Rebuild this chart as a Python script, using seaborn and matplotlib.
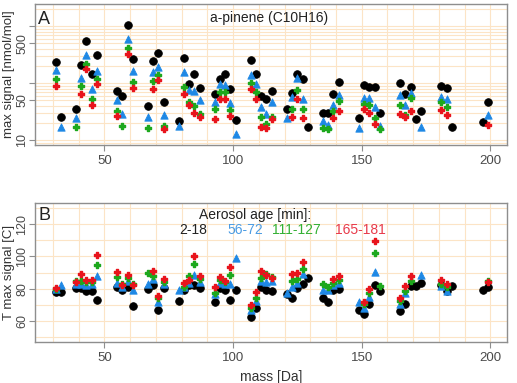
import numpy as np
import pandas as pd
import matplotlib
matplotlib.use("Agg")
import matplotlib.pyplot as plt
import seaborn as sns
from matplotlib.ticker import LogLocator, NullFormatter, FixedLocator, FixedFormatter

N = np.nan
masses = [31, 33, 39, 41, 43, 45, 47, 55, 57, 59, 61, 67, 69, 71, 73, 79, 81, 83, 85, 87,
          93, 95, 97, 99, 101, 107, 109, 111, 113, 115, 121, 123, 125, 127, 129, 135, 137,
          139, 141, 149, 151, 153, 155, 157, 165, 167, 169, 171, 173, 181, 183, 185, 197, 199]
ages = ["2-18", "56-72", "111-127", "165-181"]

# Panel A: max signal [nmol/mol]
sig_2_18 = [235, 25, 35.5, 205, 556, 143, 312, 73.5, 60, 1037, 266, 39, 248, 343, 46.6, 21.6, 273, 95, 144, 83,
            64, 118, 146, 80, 22.4, 252, 146, 59, 53, 72.6, 34.7, 67.8, 146, 117, 16.7, 29.8, 29.8,
            64, 105, 24.4, 91.5, 86.5, 85, 29.5, 99, 64, 85, 23.4, 32.7, 89, 83, 16.7, 20.5, 46]
sig_56_72 = [168, 16.7, 24, 121, 312, 78, 161, 50.5, 28.3, 596, 165, 25.7, 157, 189, 27.5, 17.6, 158, 75, 72, 50.5,
             46.6, 96.5, 93, 45, 12.9, 141, 95, 37.6, 28.6, 46, 24, 57.7, 124, 52.5, N, 21.6, 18.1,
             40.7, 62.5, 16.3, 54, 54.8, 38.5, 17.4, 61, 40.7, 66.2, N, 16.7, 57, 52.5, N, N, 27.2]
sig_111_127 = [118, N, 16.9, 89, 214, 52.5, 119, 32.4, 17.6, 408, 105, 16.4, 110, 139, 17.6, N, 84, 47, 39.6, 29,
               34.7, 70.6, 69, 33.6, N, 99, 70.6, 25, 18.9, 25.4, N, 34.7, 75.6, 35, N, 16.4, 15.6,
               32.7, 48.4, N, 42.4, 41.7, 24.4, 15.4, 40.7, 27.8, 54, N, N, 46.6, 38, N, N, N]
sig_165_181 = [88, N, N, 63.5, 175, 40.7, 97, 26, N, 320, 82, N, 78, 112, 15.8, N, 65, 41.7, 30.2, 25.7,
               23.1, 53, 52.5, 26.4, N, 78, 52.5, 17.1, 16.4, 23.1, N, 25.7, 52.5, 24.6, N, N, N,
               24.6, 32.4, N, 35, 29.5, 18.9, N, 28.6, 25, 32.7, N, N, 33.6, 27.8, N, N, 18.1]

# Panel B: T max signal [C]
t_2_18 = [78.1, 78.1, 80.6, 80.6, 78.7, 78.7, 72.6, 80.8, 79, 80.8, 69.3, 80, 82.1, 66.8, 80.4, 72.5, 79, 82, 82.3, 80.4,
          71.9, 80.2, 79.2, 72.6, 79.2, 62.4, 68.2, 81, 79.2, 78.5, 76.5, 74.4, 80.3, 82.7, 86.6, 74.4, 71.9,
          79.3, 79.6, 66.8, 64.4, 70.6, 82.2, 78.7, 65.8, 70.6, 81.3, 81.3, 83.5, 82.2, 78.2, 81.3, 79.3, 81.2]
t_56_72 = [79.5, 82.3, 83, 82.7, 82.3, 83, 88, 83.2, 81, 84.9, 79.4, 82.7, 86.2, 71.8, 82.7, 79, 81, 83.5, 88.5, 84.3,
           76.5, 83.3, 83, 83, 99, 66.4, 72, 85, 84.4, 84.5, 77, 81.2, 83.3, 89.2, N, 78.9, 79,
           82.3, 83.5, 71.8, 68, 75, 90.4, N, 70.4, 77, N, N, 88.2, 81.6, 78.4, N, N, N]
t_111_127 = [79.8, N, 84.5, 84.5, 84.3, 84, 94.6, 87.2, 82.7, 86.5, 82.7, 89.7, 88, 74.1, 84, N, 80.7, 87.6, 95.5, 86,
             77.5, 85.5, 84, 88.6, N, 68, 74, 86.4, 89.3, 87, N, 84.7, 85.8, 92, N, 83.1, 80.8,
             83.6, 85.5, N, 70.7, 77.2, 102, 81.8, 72.5, 78.5, 84.6, N, N, 82.7, 81, N, N, 85]
t_165_181 = [80.5, N, 84, 88.9, 85.2, 85.2, 100.8, 90.5, 82, 88.3, 82.1, N, 90.8, 75.6, 86.1, N, 83.5, 85.1, 100, 87.7,
             81.2, 87.2, 84.7, 93.4, N, 69.9, 78, 91.2, 88.6, 86.5, N, 88.8, 89.5, 96.7, N, N, N,
             85.7, 87.6, N, 71.8, 79.8, 109.3, N, 74.4, 81.3, 87.6, N, N, 85.4, 83, N, N, 84.2]

colors = {"2-18": "#000000", "56-72": "#1E88E5", "111-127": "#1DA81D", "165-181": "#E8141C"}
markers = {"2-18": "o", "56-72": "^", "111-127": "P", "165-181": "P"}
sizes = {"2-18": 30, "56-72": 28, "111-127": 22, "165-181": 22}
edge_w = {"2-18": 0.6, "56-72": 0.6, "111-127": 1.0, "165-181": 1.0}
text_colors = {"2-18": "#222222", "56-72": "#4A9BE3", "111-127": "#33B033", "165-181": "#E83A4A"}


def long_frame(series):
    parts = []
    for age, vals in zip(ages, series):
        parts.append(pd.DataFrame({"mass": masses, "value": vals, "age": age}))
    return pd.concat(parts, ignore_index=True).dropna()


dfA = long_frame([sig_2_18, sig_56_72, sig_111_127, sig_165_181])
dfB = long_frame([t_2_18, t_56_72, t_111_127, t_165_181])

sns.set_style("white")
plt.rcParams["font.family"] = ["Liberation Sans", "DejaVu Sans"]

W, H = 517, 383
fig = plt.figure(figsize=(W / 100, H / 100), dpi=100)
axA = fig.add_axes([35 / W, 1 - 145 / H, 472 / W, 141 / H])
axB = fig.add_axes([35 / W, 1 - 342 / H, 472 / W, 139 / H])

grid_c = "#FCE4C6"
frame_c = "#8E8E8E"
tick_c = "#4A4A4A"

for ax, df in ((axA, dfA), (axB, dfB)):
    ax.set_axisbelow(True)
    for age in ages:
        sub = df[df["age"] == age]
        sns.scatterplot(data=sub, x="mass", y="value", color=colors[age], marker=markers[age],
                        s=sizes[age], edgecolor=colors[age], linewidth=edge_w[age], legend=False,
                        ax=ax, zorder=3)
    ax.set_xlim(23, 206.5)
    ax.set_xticks([50, 100, 150, 200])
    ax.set_xticks(np.arange(30, 201, 10), minor=True)
    for sp in ax.spines.values():
        sp.set_color(frame_c)
        sp.set_linewidth(1.0)
    ax.tick_params(which="major", direction="out", length=4, width=0.8, color=frame_c,
                   labelsize=9.5, labelcolor=tick_c, left=True, bottom=True)
    ax.tick_params(axis="y", which="major", pad=1, labelsize=9)
    ax.set_xlabel("")

# Panel A: log scale
axA.set_yscale("log")
axA.set_ylim(8.2, 2450)
axA.yaxis.set_major_locator(FixedLocator([10, 50, 100, 500, 1000]))
axA.yaxis.set_major_formatter(FixedFormatter(["10", "50", "", "500", ""]))
axA.yaxis.set_minor_locator(LogLocator(base=10, subs=np.arange(2, 10), numticks=20))
axA.yaxis.set_minor_formatter(NullFormatter())
axA.grid(which="both", axis="both", color=grid_c, linewidth=0.8)
axA.set_ylabel("max signal [nmol/mol]", fontsize=9.5, color="#333333")
axA.yaxis.set_label_coords(-0.043, 0.5)

# Panel B
axB.set_ylim(46.8, 133.2)
axB.set_yticks([60, 80, 100, 120])
axB.set_yticks(np.arange(50, 131, 10), minor=True)
axB.grid(which="both", axis="both", color=grid_c, linewidth=0.8)
axB.set_ylabel("T max signal [C]", fontsize=9.5, color="#333333")
axB.yaxis.set_label_coords(-0.043, 0.5)
axB.set_xlabel("mass [Da]", fontsize=10, color="#333333")

for ax in (axA, axB):
    ax.tick_params(which="minor", length=0)
    for lab in ax.get_yticklabels():
        lab.set_rotation(90)
        lab.set_va("center")


def ftext(x, y, s, **kw):
    fig.text(x / W, 1 - y / H, s, ha="center", va="center", **kw)


ftext(44, 19, "A", fontsize=13, color="#222222")
ftext(44, 215, "B", fontsize=13, color="#222222")
ftext(269, 18, "a-pinene (C10H16)", fontsize=10, color="#222222")
ftext(255, 215, "Aerosol age [min]:", fontsize=10, color="#222222")
for age, xc in zip(ages, [193.5, 245, 296, 360]):
    ftext(xc, 230, age, fontsize=10, color=text_colors[age])

fig.savefig("out.png", dpi=100)
